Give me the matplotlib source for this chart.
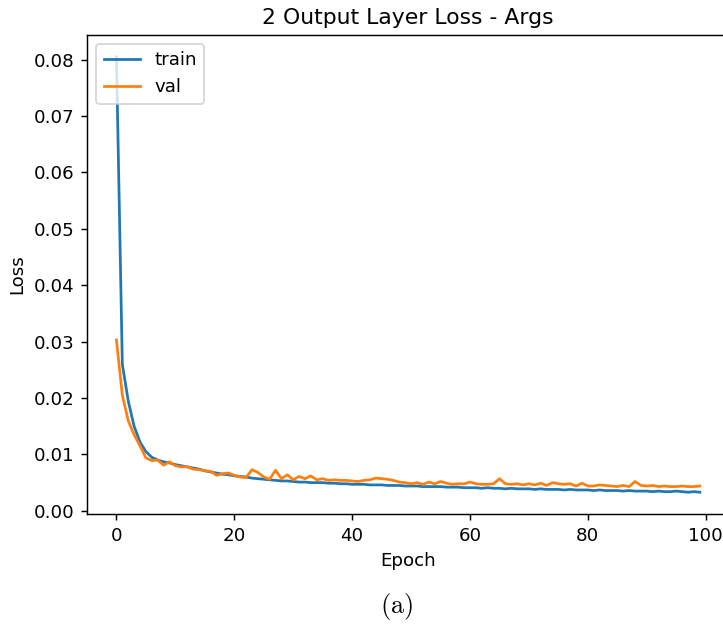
import matplotlib
matplotlib.use('Agg')
import matplotlib.pyplot as plt
import numpy as np

# loss values per epoch
train_loss = [
    0.0805, 0.0260, 0.0195, 0.0150, 0.0122, 0.0105, 0.0095, 0.0090, 0.0087, 0.0085,
    0.0082, 0.0080, 0.0078, 0.0076, 0.0074, 0.0071, 0.0069, 0.0067, 0.0065, 0.0064,
    0.0062, 0.0061, 0.0060, 0.0058, 0.0057, 0.0056, 0.0055, 0.0054, 0.0053, 0.0053,
    0.0052, 0.0051, 0.0051, 0.0050, 0.0050, 0.0050, 0.0049, 0.0049, 0.0048, 0.0048,
    0.0047, 0.0047, 0.0047, 0.0046, 0.0046, 0.0046, 0.0045, 0.0045, 0.0045, 0.0044,
    0.0044, 0.0044, 0.0043, 0.0043, 0.0043, 0.0043, 0.0042, 0.0042, 0.0042, 0.0041,
    0.0041, 0.0041, 0.0040, 0.0041, 0.0040, 0.0040, 0.0039, 0.0040, 0.0039, 0.0039,
    0.0039, 0.0038, 0.0039, 0.0038, 0.0038, 0.0038, 0.0037, 0.0038, 0.0037, 0.0037,
    0.0037, 0.0036, 0.0037, 0.0036, 0.0036, 0.0036, 0.0035, 0.0036, 0.0035, 0.0035,
    0.0035, 0.0034, 0.0035, 0.0034, 0.0034, 0.0035, 0.0034, 0.0033, 0.0034, 0.0033]

val_loss = [
    0.0303, 0.0205, 0.0160, 0.0135, 0.0115, 0.0094, 0.0089, 0.0090, 0.0081, 0.0087,
    0.0080, 0.0078, 0.0078, 0.0074, 0.0073, 0.0071, 0.0070, 0.0063, 0.0066, 0.0067,
    0.0063, 0.0060, 0.0059, 0.0073, 0.0068, 0.0060, 0.0056, 0.0072, 0.0057, 0.0064,
    0.0055, 0.0061, 0.0057, 0.0062, 0.0055, 0.0057, 0.0054, 0.0055, 0.0054, 0.0054,
    0.0053, 0.0052, 0.0054, 0.0055, 0.0058, 0.0057, 0.0056, 0.0054, 0.0051, 0.0050,
    0.0048, 0.0050, 0.0047, 0.0051, 0.0048, 0.0052, 0.0049, 0.0047, 0.0048, 0.0048,
    0.0051, 0.0048, 0.0047, 0.0047, 0.0048, 0.0057, 0.0048, 0.0047, 0.0048, 0.0046,
    0.0048, 0.0046, 0.0049, 0.0045, 0.0050, 0.0048, 0.0047, 0.0048, 0.0044, 0.0049,
    0.0044, 0.0044, 0.0046, 0.0045, 0.0044, 0.0043, 0.0045, 0.0043, 0.0052, 0.0045,
    0.0044, 0.0045, 0.0043, 0.0044, 0.0043, 0.0043, 0.0044, 0.0043, 0.0043, 0.0044]

epochs = np.arange(len(train_loss))

plt.rcParams['mathtext.fontset'] = 'cm'

# the original was saved at a higher dpi, so scale everything up that way
dpi = 131
fig = plt.figure(figsize=(723 / dpi, 625 / dpi), dpi=dpi)
# axes run slightly past the right edge, like the cropped original
ax = fig.add_axes([0.1207, 0.1776, 0.8876, 0.7664])

ax.plot(epochs, train_loss, label='train')
ax.plot(epochs, val_loss, label='val')
ax.set_title('2 Output Layer Loss - Args')
ax.set_xlabel('Epoch')
ax.set_ylabel('Loss')
ax.legend(loc='upper left')

# sub-figure caption
fig.text(0.548, 0.029, r'$\mathrm{(a)}$', ha='center', va='center', fontsize=14.5)

fig.savefig('out.png', dpi=dpi)
